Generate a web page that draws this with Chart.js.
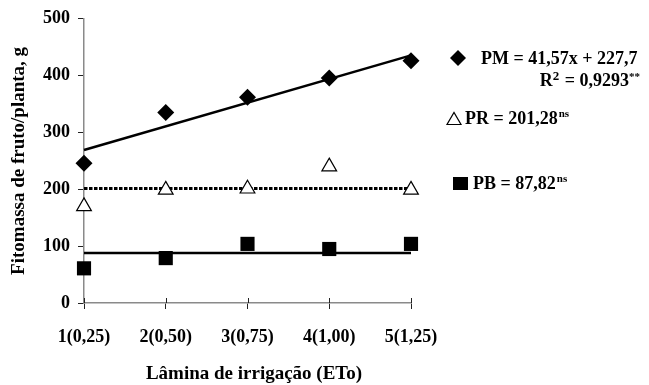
<!DOCTYPE html>
<html>
<head>
<meta charset="utf-8">
<script src="https://cdn.jsdelivr.net/npm/chart.js@4/dist/chart.umd.min.js"></script>
<style>
  html, body { margin: 0; padding: 0; background: #fff; }
  #wrap { position: relative; width: 649px; height: 385px; }
</style>
</head>
<body>
<div id="wrap"><canvas id="c" width="649" height="385"></canvas></div>
<script>
// ---- data ----
const xLevels = [1, 2, 3, 4, 5];
const xLabels = ['1(0,25)', '2(0,50)', '3(0,75)', '4(1,00)', '5(1,25)'];
const yTicks = [0, 100, 200, 300, 400, 500];
const pmValues = [246, 335, 362, 396, 426];
const prValues = [170, 199, 201, 240, 199];
const pbValues = [61, 79, 104, 95, 104];
// fitted lines (values at x = 1 and x = 5 from the equations shown)
const fitX = [1, 5];
const pmFit = [269.3, 435.6];
const prFit = [201.28, 201.28];
const pbFit = [87.82, 87.82];
const legendLines = [
  { main: 'PM = 41,57x + 227,7' },
  { main: 'R', sup1: '2', tail: ' = 0,9293', sup2: '**' },
  { main: 'PR = 201,28', sup2: 'ns' },
  { main: 'PB = 87,82', sup2: 'ns' }
];

const FONT = '"Liberation Serif", "Times New Roman", serif';
const pts = (xs, ys) => xs.map((x, i) => ({ x: x, y: ys[i] }));

const extras = {
  id: 'extras',
  afterDraw(chart) {
    const ctx = chart.ctx;
    const xs = chart.scales.x, ys = chart.scales.y;
    ctx.save();
    // x ticks crossing above the axis
    ctx.strokeStyle = '#222';
    ctx.lineWidth = 1;
    xLevels.forEach(v => {
      const px = Math.round(xs.getPixelForValue(v)) + 0.5;
      ctx.beginPath();
      ctx.moveTo(px, ys.bottom - 5);
      ctx.lineTo(px, ys.bottom);
      ctx.stroke();
    });
    // x axis title (drawn here to match reference position)
    ctx.fillStyle = '#000';
    ctx.font = 'bold 19px ' + FONT;
    ctx.textAlign = 'center';
    ctx.textBaseline = 'alphabetic';
    ctx.fillText('Lâmina de irrigação (ETo)', 254, 379);
    // legend
    ctx.textAlign = 'left';
    const big = 'bold 18px ' + FONT;
    const small = 'bold 11px ' + FONT;
    // PM line
    ctx.beginPath();
    ctx.moveTo(450, 58); ctx.lineTo(458, 50); ctx.lineTo(466, 58); ctx.lineTo(458, 66); ctx.closePath();
    ctx.fill();
    ctx.font = big;
    ctx.fillText(legendLines[0].main, 481, 64);
    // R2 line, right aligned at 640
    ctx.font = small;
    const wStar = ctx.measureText(legendLines[1].sup2).width;
    ctx.font = 'bold 13px ' + FONT;
    const w2 = ctx.measureText(legendLines[1].sup1).width;
    ctx.font = big;
    const wTail = ctx.measureText(legendLines[1].tail).width;
    const wR = ctx.measureText(legendLines[1].main).width;
    let xr = 640 - wStar;
    ctx.font = small; ctx.fillText(legendLines[1].sup2, xr, 80);
    xr -= wTail;
    ctx.font = big; ctx.fillText(legendLines[1].tail, xr, 86);
    xr -= w2;
    ctx.font = 'bold 13px ' + FONT; ctx.fillText(legendLines[1].sup1, xr - 1, 80);
    xr -= wR + 1;
    ctx.font = big; ctx.fillText(legendLines[1].main, xr, 86);
    // PR line
    ctx.strokeStyle = '#000'; ctx.lineWidth = 1.2;
    ctx.beginPath();
    ctx.moveTo(447, 124.5); ctx.lineTo(461, 124.5); ctx.lineTo(454, 112.5); ctx.closePath();
    ctx.stroke();
    ctx.font = big;
    ctx.fillText(legendLines[2].main, 465, 124);
    let wm = ctx.measureText(legendLines[2].main).width;
    ctx.font = small; ctx.fillText(legendLines[2].sup2, 465 + wm + 1, 117);
    // PB line
    ctx.fillRect(453, 177, 15, 13);
    ctx.font = big;
    ctx.fillText(legendLines[3].main, 473, 189);
    wm = ctx.measureText(legendLines[3].main).width;
    ctx.font = small; ctx.fillText(legendLines[3].sup2, 473 + wm + 1, 182);
    ctx.restore();
  }
};

new Chart(document.getElementById('c'), {
  type: 'scatter',
  data: {
    datasets: [
      { label: 'PM', data: pts(xLevels, pmValues), pointStyle: 'rectRot', pointRadius: 8.5,
        backgroundColor: '#000', borderColor: '#000', borderWidth: 0, order: 1, clip: false },
      { label: 'PR', data: pts(xLevels, prValues), pointStyle: 'triangle', pointRadius: 8.5,
        backgroundColor: '#fff', borderColor: '#000', borderWidth: 1.2, order: 1, clip: false },
      { label: 'PB', data: pts(xLevels, pbValues), pointStyle: 'rect', pointRadius: 10,
        backgroundColor: '#000', borderColor: '#000', borderWidth: 0, order: 1, clip: false },
      { label: 'PM fit', data: pts(fitX, pmFit), showLine: true, pointRadius: 0,
        borderColor: '#000', borderWidth: 2.5, order: 2, clip: false },
      { label: 'PR fit', data: pts(fitX, prFit), showLine: true, pointRadius: 0,
        borderColor: '#000', borderWidth: 3, borderDash: [3.5, 1.5], order: 2, clip: false },
      { label: 'PB fit', data: pts(fitX, pbFit), showLine: true, pointRadius: 0,
        borderColor: '#000', borderWidth: 2.5, order: 2, clip: false }
    ]
  },
  options: {
    responsive: false,
    animation: false,
    events: [],
    layout: { padding: { left: 0, top: 15, right: 238, bottom: 0 } },
    plugins: { legend: { display: false }, tooltip: { enabled: false } },
    scales: {
      x: {
        type: 'linear', min: 1, max: 5,
        afterFit(s) { s.height = 82; },
        afterBuildTicks(s) { s.ticks = xLevels.map(v => ({ value: v })); },
        ticks: {
          callback: (v) => xLabels[xLevels.indexOf(v)],
          color: '#000', font: { family: FONT, size: 18, weight: 'bold' }, padding: 18,
          maxRotation: 0, autoSkip: false
        },
        grid: { drawOnChartArea: false, drawTicks: true, tickLength: 6, tickColor: '#222' },
        border: { display: true, color: '#8a8a8a', width: 1.5 },
        title: { display: false }
      },
      y: {
        type: 'linear', min: 0, max: 500,
        afterFit(s) { s.width = 84; },
        afterBuildTicks(s) { s.ticks = yTicks.map(v => ({ value: v })); },
        ticks: { color: '#000', font: { family: FONT, size: 18, weight: 'bold' }, padding: 8 },
        grid: { drawOnChartArea: false, drawTicks: true, tickLength: 6, tickColor: '#222' },
        border: { display: true, color: '#8a8a8a', width: 1.5 },
        title: { display: true, text: 'Fitomassa de fruto/planta, g', color: '#000',
          font: { family: FONT, size: 19, weight: 'bold' }, padding: { top: 8, bottom: 0 } }
      }
    }
  },
  plugins: [extras]
});
</script>
</body>
</html>
